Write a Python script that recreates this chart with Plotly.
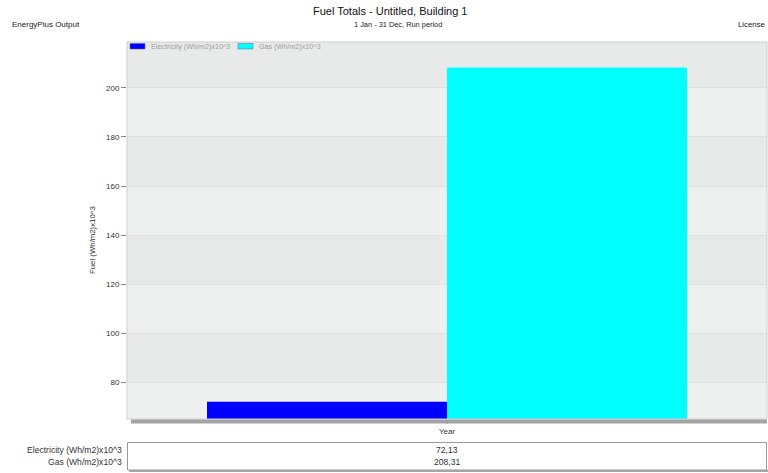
import plotly.graph_objects as go

# ---- data ----
category = ["Year"]
series_names = ["Electricity (Wh/m2)x10^3", "Gas (Wh/m2)x10^3"]
series_values = [72.13, 208.31]
series_colors = ["#0000ff", "#00ffff"]
y_ticks = [80, 100, 120, 140, 160, 180, 200]
y_range = [65.1, 218.7]

title = "Fuel Totals - Untitled, Building 1"
subtitle = "1 Jan - 31 Dec, Run period"
y_title = "Fuel (Wh/m2)x10^3"

FONT = "Liberation Sans, Arial, sans-serif"
W, H = 768, 473
L, R, T, B = 127, 1, 42, 54
PW, PH = W - L - R, H - T - B


def px_x(px):
    return (px - L) / PW


def px_y(py):
    return (H - B - py) / PH


fig = go.Figure()
for name, val, col in zip(series_names, series_values, series_colors):
    fig.add_trace(go.Bar(x=category, y=[val], name=name, marker=dict(color=col, line=dict(width=0)),
                         showlegend=False, hoverinfo="skip"))

shapes = []
# alternating horizontal bands between gridlines
edges = [y_range[0]] + y_ticks + [y_range[1]]
for i in range(len(edges) - 1):
    if i % 2 == 1:
        shapes.append(dict(type="rect", xref="paper", yref="y", x0=0, x1=1, y0=edges[i], y1=edges[i + 1],
                           fillcolor="#e8e9e9", line=dict(width=0), layer="below"))
# plot frame
shapes.append(dict(type="rect", xref="paper", yref="paper", x0=0, x1=1, y0=0, y1=1,
                   line=dict(color="#cfcfcf", width=1), fillcolor="rgba(0,0,0,0)"))
# drop shadow under the plot area
shapes.append(dict(type="rect", xref="paper", yref="paper", x0=px_x(131), x1=1, y0=px_y(423.5), y1=px_y(419.5),
                   fillcolor="#a3a3a3", line=dict(width=0)))
# data table box and its shadow
shapes.append(dict(type="rect", xref="paper", yref="paper", x0=px_x(129), x1=px_x(768), y0=px_y(472), y1=px_y(470),
                   fillcolor="#a8a8a8", line=dict(width=0)))
shapes.append(dict(type="rect", xref="paper", yref="paper", x0=px_x(127.5), x1=px_x(766.5), y0=px_y(470), y1=px_y(442.5),
                   fillcolor="white", line=dict(color="#9a9a9a", width=1)))

annotations = []
# legend drawn inside the top of the plot area
leg_x = [130, 238]
for name, col, x0 in zip(series_names, series_colors, leg_x):
    shapes.append(dict(type="rect", xref="paper", yref="paper", x0=px_x(x0), x1=px_x(x0 + 15),
                       y0=px_y(49), y1=px_y(43.5), fillcolor=col, line=dict(color="#6060a0", width=0.5)))
    annotations.append(dict(xref="paper", yref="paper", x=px_x(x0 + 19), y=px_y(46.5), text=name,
                            showarrow=False, xanchor="left", yanchor="middle",
                            font=dict(family=FONT, size=7.2, color="#a0a0a0")))

# titles and header texts
annotations.append(dict(xref="paper", yref="paper", x=px_x(390), y=px_y(11), text=title, showarrow=False,
                        xanchor="center", yanchor="middle", font=dict(family=FONT, size=11, color="#111")))
annotations.append(dict(xref="paper", yref="paper", x=px_x(398), y=px_y(25), text=subtitle, showarrow=False,
                        xanchor="center", yanchor="middle", font=dict(family=FONT, size=7.4, color="#222")))
annotations.append(dict(xref="paper", yref="paper", x=px_x(10), y=px_y(25), text="EnergyPlus Output",
                        showarrow=False, xanchor="left", yanchor="middle",
                        font=dict(family=FONT, size=8, color="#222")))
annotations.append(dict(xref="paper", yref="paper", x=px_x(767), y=px_y(25), text="License",
                        showarrow=False, xanchor="right", yanchor="middle",
                        font=dict(family=FONT, size=7.8, color="#222")))
annotations.append(dict(xref="paper", yref="paper", x=px_x(93), y=px_y(240), text=y_title, showarrow=False,
                        textangle=-90, xanchor="center", yanchor="middle",
                        font=dict(family=FONT, size=7.8, color="#333")))

# data table rows
row_y = [450, 462]
for name, val, yy in zip(series_names, series_values, row_y):
    annotations.append(dict(xref="paper", yref="paper", x=px_x(124), y=px_y(yy), text=name, showarrow=False,
                            xanchor="right", yanchor="middle", font=dict(family=FONT, size=8.6, color="#333")))
    annotations.append(dict(xref="x", yref="paper", x=category[0], y=px_y(yy),
                            text=f"{val:.2f}".replace(".", ","), showarrow=False,
                            xanchor="center", yanchor="middle", font=dict(family=FONT, size=8.6, color="#333")))

fig.update_layout(
    width=W, height=H,
    margin=dict(l=L, r=R, t=T, b=B, pad=0),
    paper_bgcolor="white",
    plot_bgcolor="#eeefef",
    barmode="group", bargap=0.25, bargroupgap=0,
    showlegend=False,
    shapes=shapes,
    annotations=annotations,
    font=dict(family=FONT, size=8, color="#333"),
)
fig.update_xaxes(type="category", showgrid=False, ticks="outside", ticklen=4, tickcolor="#999",
                 tickfont=dict(family=FONT, size=8, color="#333"), showline=False, zeroline=False)
fig.update_yaxes(range=y_range, tickvals=y_ticks, showgrid=True, gridcolor="#dfe0e0", gridwidth=1,
                 ticks="outside", ticklen=5, tickcolor="#888", zeroline=False, showline=False,
                 tickfont=dict(family=FONT, size=8, color="#333"))

fig.write_html("out.html")
